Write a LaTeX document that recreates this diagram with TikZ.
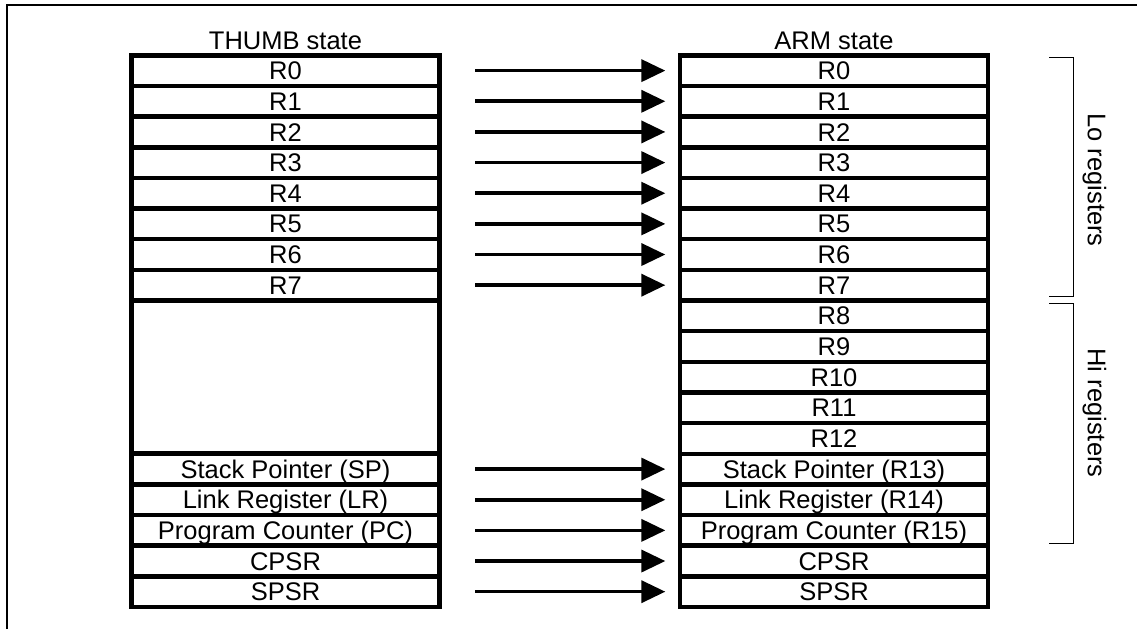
\documentclass[tikz,border=0pt]{standalone}
\usepackage{fontspec}
\setmainfont{Liberation Sans}
\usetikzlibrary{arrows.meta}
\tikzset{
  reg/.style={draw, line width=2.25pt, minimum width=154pt, minimum height=15.33pt,
    inner sep=0pt, text height=9.1pt, text depth=0pt},
  caption/.style={inner sep=0pt, text height=9.1pt, text depth=0pt},
  regarrow/.style={-{Triangle[length=12pt,width=11pt]}, line width=1.8pt,
    shorten <=16.75pt, shorten >=6.2pt},
  bracket/.style={line width=0.7pt}
}
\begin{document}
\begin{tikzpicture}[x=0.5pt, y=-0.5pt, font=\fontsize{12.75}{15}\selectfont]
\useasboundingbox (0,0) rectangle (1137,629);
\draw[line width=1pt] (6.7,629) -- (6.7,5) -- (1137,5);

% THUMB state
\node[caption] (thumb) at (285.5,40) {THUMB state};
\foreach \i/\txt in {0/R0,1/R1,2/R2,3/R3,4/R4,5/R5,6/R6,7/R7,
    13/Stack Pointer (SP),14/Link Register (LR),15/Program Counter (PC),16/CPSR,17/SPSR}
  \node[reg] (t\i) at (285.5,{55.3+30.65*(\i+0.5)}) {\txt};
\node[reg, minimum height=76.6pt] (tgap) at (285.5,{55.3+30.65*10.5}) {};

% ARM state
\node[caption] (arm) at (834,40) {ARM state};
\foreach \i/\txt in {0/R0,1/R1,2/R2,3/R3,4/R4,5/R5,6/R6,7/R7,8/R8,9/R9,10/R10,11/R11,12/R12,
    13/Stack Pointer (R13),14/Link Register (R14),15/Program Counter (R15),16/CPSR,17/SPSR}
  \node[reg] (a\i) at (834,{55.3+30.65*(\i+0.5)}) {\txt};

\foreach \i in {0,...,7,13,14,15,16,17}
  \draw[regarrow] (t\i) -- (a\i);

% Lo / Hi
\draw[bracket] (1049,57.3) -| (1073.5,296.7) -- (1049,296.7);
\draw[bracket] (1049,303.3) -| (1073.5,543.3) -- (1049,543.3);
\node[caption, rotate=-90] (lo) at (1097,180) {Lo registers};
\node[caption, rotate=-90] (hi) at (1097,413) {Hi registers};
\end{tikzpicture}
\end{document}
